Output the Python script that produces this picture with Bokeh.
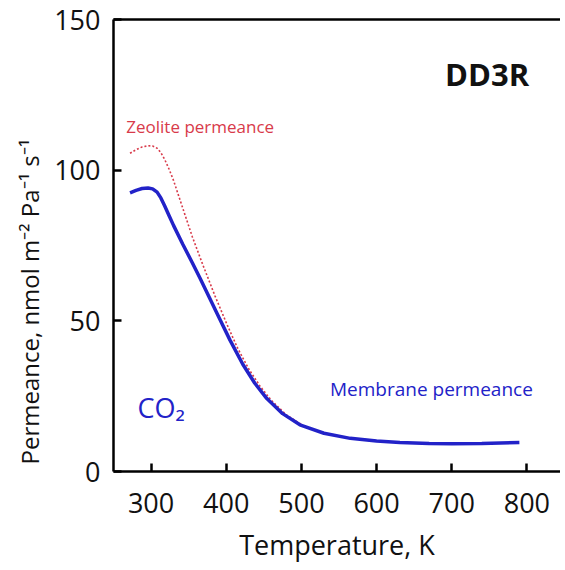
from bokeh.plotting import figure
from bokeh.models import FixedTicker, LinearAxis, Label, Range1d, Title
from bokeh.embed import file_html
from bokeh.resources import INLINE

# Data
temp_membrane = [272, 280, 288, 296, 302, 308, 313, 318, 324, 330, 342, 355, 365, 378,
                 391, 405, 422, 438, 454, 475, 498, 530, 565, 600, 631, 670, 700, 740, 790]
perm_membrane = [92.5, 93.3, 93.9, 94.1, 93.8, 92.7, 90.8, 88.2, 84.9, 81.6, 75.5, 69.2,
                 64.2, 57.5, 50.8, 43.6, 35.6, 29.3, 24.2, 19.2, 15.5, 12.7, 11.0, 10.1,
                 9.6, 9.3, 9.2, 9.3, 9.6]
temp_zeolite = [272, 280, 288, 296, 302, 308, 313, 318, 324, 330, 342, 355, 369, 385,
                401, 415, 430, 445, 460, 480, 500]
perm_zeolite = [105.6, 106.8, 107.7, 108.1, 108.0, 107.3, 105.8, 103.6, 100.3, 96.5,
                87.5, 77.8, 68.5, 58.3, 48.8, 41.0, 34.0, 28.3, 23.6, 18.8, 15.6]
x_ticks = [300, 400, 500, 600, 700, 800]
y_ticks = [0, 50, 100, 150]

FONT = "Open Sans"
BLUE = "#2222c8"
RED = "#d83a4a"
W, H = 560, 565
LEFT, BOTTOM = 113, 88

p = figure(width=W, height=H, output_backend="svg", toolbar_location=None,
           x_range=Range1d(250, 844.7), y_range=Range1d(0, 150),
           min_border_left=LEFT, min_border_top=19, min_border_bottom=BOTTOM,
           min_border_right=0)
p.outline_line_color = None
p.grid.visible = False
p.background_fill_color = "white"
p.border_fill_color = "white"

p.line(temp_zeolite, perm_zeolite, line_color=RED, line_width=1.6, line_dash="2 2")
p.line(temp_membrane, perm_membrane, line_color=BLUE, line_width=3.5)

for ax in (p.xaxis[0], p.yaxis[0]):
    ax.axis_line_color = "black"
    ax.axis_line_width = 2.5
    ax.major_tick_line_color = "black"
    ax.major_tick_line_width = 2.5
    ax.major_tick_in = 8
    ax.major_tick_out = 0
    ax.minor_tick_line_color = None
    ax.major_label_text_font = FONT
    ax.major_label_text_font_size = "27px"
    ax.major_label_text_color = "#111111"
    ax.axis_label_text_font = FONT
    ax.axis_label_text_font_style = "normal"
    ax.axis_label_text_color = "#111111"

p.xaxis[0].ticker = FixedTicker(ticks=x_ticks)
p.yaxis[0].ticker = FixedTicker(ticks=y_ticks)
p.xaxis[0].axis_label = "Temperature, K"
p.xaxis[0].axis_label_text_font_size = "27px"
p.xaxis[0].major_label_standoff = 21
p.xaxis[0].axis_label_standoff = 10
p.yaxis[0].major_label_standoff = 13

# y-axis title, anchored near the bottom of the frame as in the reference
ytitle = Title(text="Permeance, nmol m⁻² Pa⁻¹ s⁻¹", align="left", offset=7,
               text_font=FONT, text_font_size="24px", text_font_style="normal",
               text_color="#111111", standoff=12)
p.add_layout(ytitle, "left")

top = LinearAxis(ticker=FixedTicker(ticks=[]), axis_line_color="black", axis_line_width=2.5,
                 major_tick_line_color=None, minor_tick_line_color=None,
                 major_label_text_font_size="0px")
p.add_layout(top, "above")

p.add_layout(Label(x=747, y=132, text="DD3R", text_font=FONT, text_font_size="31px",
                   text_font_style="bold", text_color="#111111",
                   text_align="center", text_baseline="middle"))
p.add_layout(Label(x=267, y=114.4, text="Zeolite permeance", text_font=FONT,
                   text_font_size="17px", text_color=RED, text_baseline="middle"))
p.add_layout(Label(x=538, y=27.5, text="Membrane permeance", text_font=FONT,
                   text_font_size="19px", text_color=BLUE, text_baseline="middle"))
p.add_layout(Label(x=282, y=21.3, text="CO₂", text_font=FONT, text_font_size="27px",
                   text_color=BLUE, text_baseline="middle"))

open("out.html", "w").write(file_html(p, INLINE))
